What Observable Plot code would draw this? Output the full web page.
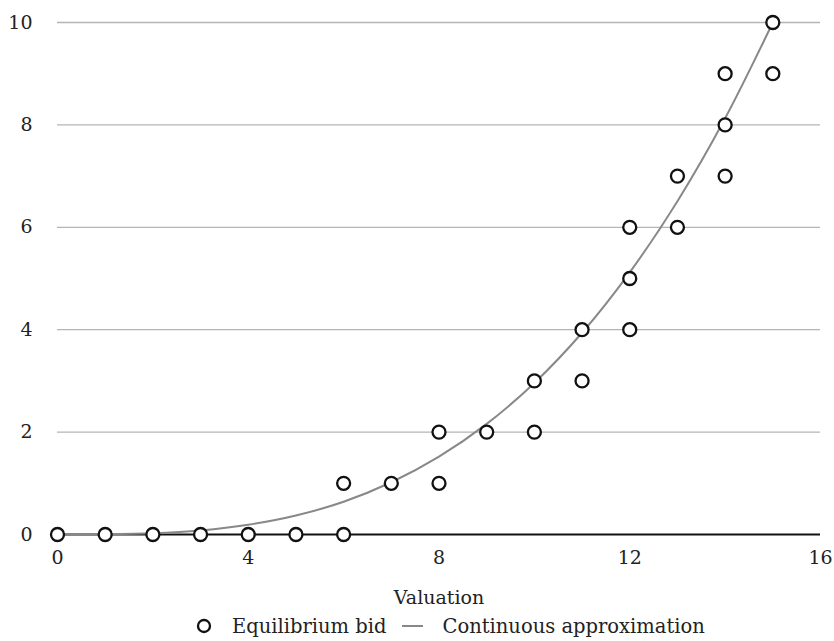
<!DOCTYPE html>
<html><head><meta charset="utf-8">
<script src="https://cdn.jsdelivr.net/npm/d3@7"></script>
<script src="https://cdn.jsdelivr.net/npm/@observablehq/plot@0.6"></script>
<style>
body{margin:0;background:#fff;font-family:"DejaVu Serif","Liberation Serif",serif;}
#legend{display:flex;justify-content:flex-start;align-items:center;height:30px;font-size:19.5px;color:#222;padding-left:196px;}
</style></head><body>
<div id="chart"></div>
<div id="legend"></div>
<script>
const bidValuation = [0,1,2,3,4,5,6,6,7,8,8,9,10,10,11,11,12,12,12,13,13,14,14,14,15,15];
const bidValue     = [0,0,0,0,0,0,0,1,1,1,2,2,2,3,3,4,4,5,6,6,7,7,8,9,9,10];
const approxValuation = [0,1,2,3,4,5,6,7,8,9,10,11,12,13,14,15];
const approxValue     = [0,0.003,0.024,0.08,0.19,0.37,0.64,1.02,1.52,2.16,2.96,3.94,5.12,6.51,8.13,10];
const xTicks = [0,4,8,12,16];
const yTicks = [0,2,4,6,8,10];

const bids = bidValuation.map((x,i)=>({x, y: bidValue[i]}));
const approx = approxValuation.map((x,i)=>({x, y: approxValue[i]}));

const chart = Plot.plot({
  width: 834, height: 611,
  marginLeft: 57, marginRight: 14, marginTop: 22, marginBottom: 77,
  style: {fontFamily: '"DejaVu Serif", "Liberation Serif", serif', fontSize: "19px", color: "#222", background: "#fff"},
  x: {domain: [0,16], ticks: xTicks, tickSize: 0, tickPadding: 16, label: "Valuation", labelAnchor: "center", labelArrow: "none", labelOffset: 69},
  y: {domain: [0,10], ticks: yTicks, tickSize: 0, tickPadding: 25, label: null, grid: false},
  marks: [
    Plot.gridY(yTicks.filter(d=>d>0), {stroke: "#b5b5b5", strokeOpacity: 1, strokeWidth: 1.3}),
    Plot.ruleY([0], {stroke: "#111", strokeWidth: 2}),
    Plot.line(approx, {x: "x", y: "y", stroke: "#888", strokeWidth: 2, curve: "catmull-rom"}),
    Plot.dot(bids, {x: "x", y: "y", r: 6.5, fill: "#fff", stroke: "#111", strokeWidth: 2.3})
  ]
});
document.getElementById("chart").appendChild(chart);

const legend = document.getElementById("legend");
legend.innerHTML = `<svg width="16" height="16" style="margin-right:20px"><circle cx="8" cy="8" r="6" fill="#fff" stroke="#111" stroke-width="2.3"/></svg><span>Equilibrium bid</span><svg width="21" height="16" style="margin:0 19px 0 16px"><line x1="0" y1="8" x2="21" y2="8" stroke="#888" stroke-width="2"/></svg><span>Continuous approximation</span>`;
</script>
</body></html>
